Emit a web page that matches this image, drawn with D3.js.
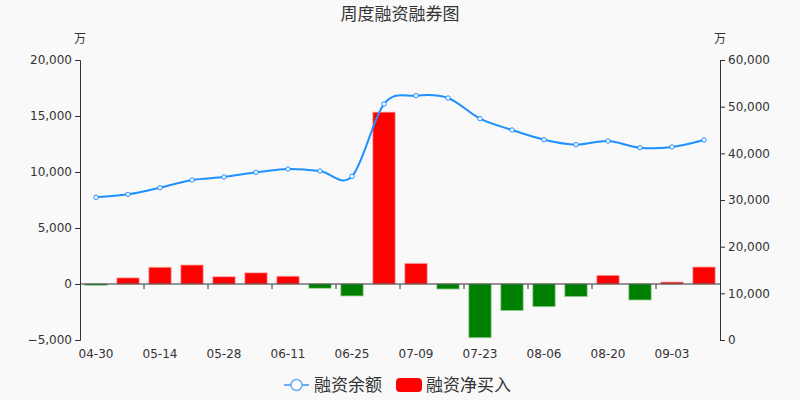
<!DOCTYPE html>
<html>
<head>
<meta charset="utf-8">
<script src="https://cdn.jsdelivr.net/npm/d3@7"></script>
<style>
  body { margin: 0; background: #f9f9f9; }
  svg { font-family: "Noto Sans CJK SC", "DejaVu Sans", sans-serif; }
  .tick text, .xlabels text { fill: #333; font-size: 12px; font-family: "DejaVu Sans", sans-serif; }
  .domain, .tick line { stroke: #333; }
</style>
</head>
<body>
<div id="chart"></div>
<script>
// weekly dates
const dates = ['04-30','05-07','05-14','05-21','05-28','06-04','06-11','06-18','06-25','07-02',
  '07-09','07-16','07-23','07-30','08-06','08-13','08-20','08-27','09-03','09-10']
// 融资净买入 (万), left axis
const netBuy = [-120, 550, 1500, 1700, 650, 1000, 700, -380, -1070, 15350,
  1850, -450, -4800, -2380, -2030, -1130, 780, -1430, 180, 1520]
// 融资余额 (万), right axis
const balance = [30570, 31210, 32640, 34290, 34930, 35930, 36640, 36210, 35070, 50570,
  52360, 51860, 47430, 45000, 42930, 41860, 42640, 41210, 41360, 42860]
const leftTicks = [-5000, 0, 5000, 10000, 15000, 20000]
const rightTicks = [0, 10000, 20000, 30000, 40000, 50000, 60000]

const width = 800
const height = 400
const margin = {top: 60, right: 80, bottom: 60, left: 80}

const svg = d3.select('#chart').append('svg')
  .attr('width', width)
  .attr('height', height)
  .attr('viewBox', [0, 0, width, height])

const x = d3.scaleBand()
  .domain(dates)
  .range([margin.left, width - margin.right])

const yL = d3.scaleLinear()
  .domain([-5000, 20000])
  .range([height - margin.bottom, margin.top])

const yR = d3.scaleLinear()
  .domain([0, 60000])
  .range([height - margin.bottom, margin.top])

const fmt = d3.format(',')

// title
svg.append('text')
  .attr('x', width / 2).attr('y', 20)
  .attr('text-anchor', 'middle')
  .attr('fill', '#333')
  .attr('font-size', 17)
  .text('周度融资融券图')

// units
svg.append('text').attr('x', 80).attr('y', 43).attr('text-anchor', 'middle')
  .attr('font-size', 12).attr('fill', '#333').text('万')
svg.append('text').attr('x', 720).attr('y', 43).attr('text-anchor', 'middle')
  .attr('font-size', 12).attr('fill', '#333').text('万')

// left axis
svg.append('g')
  .attr('transform', `translate(${margin.left},0)`)
  .call(d3.axisLeft(yL).tickValues(leftTicks).tickFormat(fmt).tickSize(5).tickPadding(3))

// right axis
svg.append('g')
  .attr('transform', `translate(${width - margin.right},0)`)
  .call(d3.axisRight(yR).tickValues(rightTicks).tickFormat(fmt).tickSize(5).tickPadding(3))

// bars
const bw = x.bandwidth() * 0.7
svg.append('g').classed('bars', true)
  .selectAll('rect')
  .data(dates)
  .enter().append('rect')
  .attr('x', (d, i) => x(d) + (x.bandwidth() - bw) / 2)
  .attr('width', bw)
  .attr('y', (d, i) => yL(Math.max(0, netBuy[i])))
  .attr('height', (d, i) => Math.abs(yL(netBuy[i]) - yL(0)))
  .attr('fill', (d, i) => netBuy[i] >= 0 ? '#ff0000' : '#008000')
  .attr('stroke', (d, i) => netBuy[i] >= 0 ? '#ffb3b3' : '#9fd49f')
  .attr('stroke-width', 0.8)

// x axis on zero line
const xAxis = svg.append('g')
  .attr('transform', `translate(0,${yL(0)})`)
xAxis.append('line')
  .attr('x1', margin.left).attr('x2', width - margin.right)
  .attr('stroke', '#333')
const tickPos = d3.range(2, dates.length, 2).map(i => x(dates[i]))
xAxis.selectAll('line.tk')
  .data(tickPos)
  .enter().append('line').classed('tk', true)
  .attr('x1', d => d).attr('x2', d => d)
  .attr('y1', 0).attr('y2', 5)
  .attr('stroke', '#333')

svg.append('g').classed('xlabels', true)
  .selectAll('text')
  .data(dates.filter((d, i) => i % 2 === 0))
  .enter().append('text')
  .attr('x', d => x(d) + x.bandwidth() / 2)
  .attr('y', 358)
  .attr('text-anchor', 'middle')
  .text(d => d)

// balance line
const line = d3.line()
  .x((d, i) => x(dates[i]) + x.bandwidth() / 2)
  .y(d => yR(d))
  .curve(d3.curveCatmullRom.alpha(0))

svg.append('path')
  .datum(balance)
  .attr('d', line)
  .attr('fill', 'none')
  .attr('stroke', '#1e90ff')
  .attr('stroke-width', 2)

svg.append('g').classed('points', true)
  .selectAll('circle')
  .data(balance)
  .enter().append('circle')
  .attr('cx', (d, i) => x(dates[i]) + x.bandwidth() / 2)
  .attr('cy', d => yR(d))
  .attr('r', 2.2)
  .attr('fill', '#fff')
  .attr('stroke', '#1e90ff')
  .attr('stroke-width', 1)

// legend
const lg = svg.append('g').classed('legend', true)
lg.append('line')
  .attr('x1', 284).attr('x2', 309).attr('y1', 385).attr('y2', 385)
  .attr('stroke', '#69aef5').attr('stroke-width', 2)
lg.append('circle')
  .attr('cx', 296.5).attr('cy', 385).attr('r', 5.5)
  .attr('fill', '#fff').attr('stroke', '#69aef5').attr('stroke-width', 1.5)
lg.append('text')
  .attr('x', 314).attr('y', 391)
  .attr('font-size', 17).attr('fill', '#333')
  .text('融资余额')
lg.append('rect')
  .attr('x', 396).attr('y', 378).attr('width', 26).attr('height', 14).attr('rx', 4)
  .attr('fill', '#ff0000')
lg.append('text')
  .attr('x', 426).attr('y', 391)
  .attr('font-size', 17).attr('fill', '#333')
  .text('融资净买入')
</script>
</body>
</html>
